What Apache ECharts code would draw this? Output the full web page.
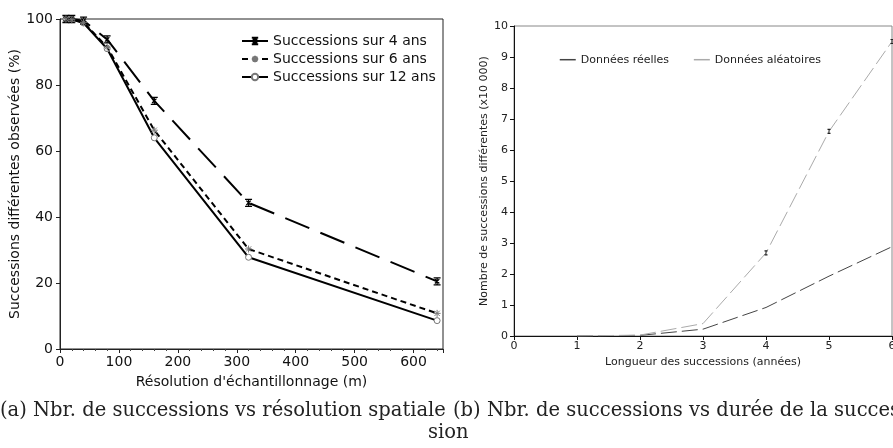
<!DOCTYPE html>
<html>
<head>
<meta charset="utf-8">
<script src="https://cdn.jsdelivr.net/npm/echarts@6/dist/echarts.min.js"></script>
<style>
html,body{margin:0;padding:0;background:#fff;}
#c{width:893px;height:448px;}
</style>
</head>
<body>
<div id="c"></div>
<script>
// ---- Data (left panel) ----
const resolutions = [10, 20, 40, 80, 160, 320, 640];
const succ4 = [100, 100, 99.5, 93.8, 75.2, 44.3, 20.5];
const succ6 = [100, 99.8, 99, 91.5, 66.3, 30.3, 10.8];
const succ12 = [100, 99.8, 98.8, 91, 64, 27.8, 8.6];
const leftNames = ['Successions sur 4 ans', 'Successions sur 6 ans', 'Successions sur 12 ans'];

// ---- Data (right panel) ----
const lengths = [1, 2, 3, 4, 5, 6];
const reelles = [0, 0.02, 0.22, 0.92, 1.93, 2.88];
const aleatoires = [0, 0.03, 0.4, 2.68, 6.6, 9.5];
const rightNames = ['Données réelles', 'Données aléatoires'];

// ---- Captions ----
const captionA = '(a) Nbr. de successions vs résolution spatiale';
const captionB1 = '(b) Nbr. de successions vs durée de la succes';
const captionB2 = 'sion';

const pair = (xs, ys) => xs.map((x, i) => [x, ys[i]]);

const SANS = 'DejaVu Sans';
const chart = echarts.init(document.getElementById('c'), null, {renderer: 'canvas'});

const ibeamX = 'path://M0,0L8,0M4,0L4,8M0,8L8,8M1.5,1.5L6.5,6.5M6.5,1.5L1.5,6.5';
const star = 'path://M4,0L4,8M0,4L8,4M1,1L7,7M7,1L1,7';
const ibeam = 'path://M0,0L6,0M3,0L3,8M0,8L6,8';

chart.setOption({
  animation: false,
  backgroundColor: '#fff',
  grid: [
    {left: 60, right: 450, top: 19, bottom: 99, show: true, borderColor: '#222', borderWidth: 1,
     backgroundColor: 'transparent', outerBoundsMode: 'none', containLabel: false},
    {left: 514, right: 1, top: 26, bottom: 112, show: true, borderColor: '#888', borderWidth: 1,
     backgroundColor: 'transparent', outerBoundsMode: 'none', containLabel: false}
  ],
  legend: [
    {
      id: 'legLeft',
      data: leftNames,
      orient: 'vertical',
      left: 236, top: 29,
      itemWidth: 26, itemHeight: 8, itemGap: 4,
      textStyle: {fontFamily: SANS, fontSize: 14, color: '#111'},
      selectedMode: false
    },
    {
      id: 'legRight',
      data: rightNames,
      orient: 'horizontal',
      left: 554, top: 49,
      itemWidth: 16, itemHeight: 8, itemGap: 24,
      lineStyle: {type: 'solid', width: 1.5},
      itemStyle: {opacity: 0},
      textStyle: {fontFamily: SANS, fontSize: 11, color: '#222'},
      selectedMode: false
    }
  ],
  xAxis: [
    {
      gridIndex: 0, type: 'value', min: 0, max: 650, interval: 100,
      name: "Résolution d'échantillonnage (m)", nameLocation: 'middle', nameGap: 26,
      nameTextStyle: {fontFamily: SANS, fontSize: 14, color: '#111'},
      axisLine: {show: true, lineStyle: {color: '#222', width: 1}},
      axisTick: {show: true, length: 4, lineStyle: {color: '#222'}},
      minorTick: {show: true, splitNumber: 5, length: 2, lineStyle: {color: '#444'}},
      axisLabel: {fontFamily: SANS, fontSize: 14, color: '#111', margin: 6, showMaxLabel: false},
      splitLine: {show: false}
    },
    {
      gridIndex: 1, type: 'value', min: 0, max: 6, interval: 1,
      name: 'Longueur des successions (années)', nameLocation: 'middle', nameGap: 21,
      nameTextStyle: {fontFamily: SANS, fontSize: 11, color: '#222'},
      axisLine: {show: true, lineStyle: {color: '#111', width: 1}},
      axisTick: {show: true, length: 4, lineStyle: {color: '#111'}},
      axisLabel: {fontFamily: SANS, fontSize: 11, color: '#222', margin: 5},
      splitLine: {show: false}
    }
  ],
  yAxis: [
    {
      gridIndex: 0, type: 'value', min: 0, max: 100, interval: 20,
      name: 'Successions différentes observées (%)', nameLocation: 'middle', nameGap: 38,
      nameTextStyle: {fontFamily: SANS, fontSize: 14, color: '#111'},
      axisLine: {show: true, lineStyle: {color: '#222', width: 1}},
      axisTick: {show: true, length: 4, lineStyle: {color: '#222'}},
      axisLabel: {fontFamily: SANS, fontSize: 14, color: '#111', margin: 7},
      splitLine: {show: false}
    },
    {
      gridIndex: 1, type: 'value', min: 0, max: 10, interval: 1,
      name: 'Nombre de successions différentes (x10 000)', nameLocation: 'middle', nameGap: 24,
      nameTextStyle: {fontFamily: SANS, fontSize: 11, color: '#222'},
      axisLine: {show: true, lineStyle: {color: '#111', width: 1}},
      axisTick: {show: true, length: 4, lineStyle: {color: '#111'}},
      axisLabel: {fontFamily: SANS, fontSize: 11, color: '#222', margin: 6},
      splitLine: {show: false}
    }
  ],
  series: [
    {
      name: leftNames[0], type: 'line', xAxisIndex: 0, yAxisIndex: 0,
      data: pair(resolutions, succ4),
      symbol: ibeamX, symbolSize: [7, 7],
      itemStyle: {color: 'none', borderColor: '#000', borderWidth: 1.3},
      lineStyle: {color: '#000', width: 2, type: [26, 12]},
      z: 3
    },
    {
      name: leftNames[1], type: 'line', xAxisIndex: 0, yAxisIndex: 0,
      data: pair(resolutions, succ6),
      symbol: star, symbolSize: [7, 7],
      itemStyle: {color: 'none', borderColor: '#777', borderWidth: 1},
      lineStyle: {color: '#000', width: 2, type: [6, 4]},
      z: 3
    },
    {
      name: leftNames[2], type: 'line', xAxisIndex: 0, yAxisIndex: 0,
      data: pair(resolutions, succ12),
      symbol: 'circle', symbolSize: 6,
      itemStyle: {color: '#fff', borderColor: '#777', borderWidth: 1},
      lineStyle: {color: '#000', width: 2, type: 'solid'},
      z: 2
    },
    {
      name: rightNames[0], type: 'line', xAxisIndex: 1, yAxisIndex: 1,
      data: pair(lengths, reelles),
      symbol: 'none',
      itemStyle: {color: '#666'},
      lineStyle: {color: '#444', width: 1, type: [16, 5]}
    },
    {
      name: rightNames[1], type: 'line', xAxisIndex: 1, yAxisIndex: 1,
      data: pair(lengths, aleatoires),
      symbol: ibeam,
      symbolSize: (v) => v[1] > 1 ? [3, 4] : 0,
      itemStyle: {color: 'none', borderColor: '#222', borderWidth: 1},
      lineStyle: {color: '#aaa', width: 1, type: [16, 5]}
    }
  ],
  graphic: [
    {type: 'text', left: 0, top: 401, style: {text: captionA, font: '19.5px "DejaVu Serif"', fill: '#222'}},
    {type: 'text', left: 453, top: 401, style: {text: captionB1, font: '19.5px "DejaVu Serif"', fill: '#222'}},
    {type: 'text', left: 428, top: 423, style: {text: captionB2, font: '19.5px "DejaVu Serif"', fill: '#222'}}
  ]
});
</script>
</body>
</html>
